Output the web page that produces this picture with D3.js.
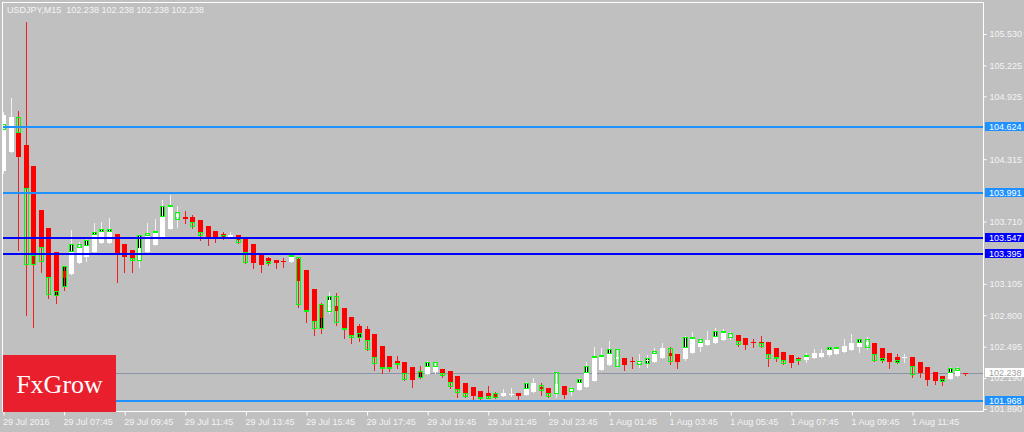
<!DOCTYPE html>
<html><head><meta charset="utf-8">
<script src="https://cdn.jsdelivr.net/npm/d3@7/dist/d3.min.js"></script>
<style>html,body{margin:0;padding:0;background:#c0c0c0;}svg{display:block;}</style>
</head><body><svg id="c" width="1024" height="432"></svg>
<script>
const symbolTitle = "USDJPY,M15  102.238 102.238 102.238 102.238";
const openP = [104.200,104.385,104.569,104.452,104.249,103.822,103.647,103.414,103.230,103.200,
103.307,103.365,103.414,103.501,103.501,103.589,103.492,103.433,103.326,103.414,
103.482,103.560,103.637,103.754,103.754,103.754,103.724,103.666,103.618,103.589,
103.560,103.579,103.560,103.492,103.385,103.356,103.336,103.326,103.317,103.346,
103.239,103.055,102.909,102.832,102.890,102.870,102.783,102.696,102.667,102.618,
102.501,102.404,102.356,102.346,102.298,102.259,102.230,102.249,102.278,102.259,
102.210,102.142,102.103,102.064,102.045,102.035,102.016,102.026,102.045,102.026,
102.055,102.103,102.094,102.035,102.113,102.055,102.074,102.103,102.161,102.268,
102.317,102.375,102.385,102.356,102.336,102.356,102.346,102.385,102.434,102.424,
102.375,102.434,102.492,102.511,102.531,102.560,102.589,102.608,102.579,102.540,
102.540,102.540,102.482,102.443,102.414,102.385,102.366,102.385,102.395,102.414,
102.424,102.443,102.463,102.492,102.511,102.531,102.482,102.434,102.395,102.385,
102.395,102.346,102.298,102.249,102.210,102.181,102.210,102.238];
const highP = [104.773,104.909,104.783,105.646,104.249,103.822,103.647,103.414,103.278,103.627,
103.511,103.560,103.695,103.705,103.744,103.589,103.492,103.433,103.579,103.695,
103.734,103.919,103.967,103.860,103.812,103.773,103.724,103.666,103.618,103.608,
103.608,103.579,103.560,103.492,103.385,103.365,103.336,103.356,103.404,103.365,
103.239,103.055,102.919,103.026,103.016,102.870,102.783,102.715,102.696,102.618,
102.501,102.404,102.404,102.346,102.298,102.307,102.356,102.346,102.278,102.259,
102.210,102.142,102.103,102.064,102.113,102.055,102.084,102.094,102.045,102.152,
102.191,102.142,102.094,102.249,102.113,102.103,102.191,102.346,102.492,102.482,
102.550,102.472,102.385,102.395,102.424,102.414,102.482,102.531,102.492,102.424,
102.599,102.637,102.579,102.647,102.676,102.667,102.637,102.608,102.579,102.570,
102.599,102.540,102.482,102.443,102.414,102.395,102.434,102.472,102.472,102.492,
102.492,102.570,102.618,102.570,102.589,102.531,102.482,102.434,102.424,102.424,
102.395,102.346,102.298,102.249,102.210,102.298,102.298,102.240];
const lowP = [104.181,104.385,103.433,102.802,102.686,103.220,102.967,102.919,103.045,103.200,
103.307,103.326,103.414,103.501,103.501,103.123,103.220,103.220,103.268,103.414,
103.482,103.560,103.637,103.656,103.695,103.647,103.530,103.482,103.511,103.540,
103.550,103.501,103.307,103.259,103.220,103.288,103.259,103.268,103.317,102.880,
102.734,102.608,102.628,102.822,102.705,102.579,102.531,102.550,102.463,102.268,
102.239,102.259,102.288,102.171,102.103,102.191,102.230,102.239,102.200,102.094,
102.006,102.006,101.977,101.977,101.997,101.997,102.016,102.016,101.977,102.026,
102.055,102.026,102.006,102.006,101.997,102.026,102.074,102.103,102.161,102.268,
102.317,102.298,102.268,102.288,102.298,102.298,102.346,102.385,102.327,102.288,
102.366,102.434,102.453,102.511,102.531,102.560,102.570,102.501,102.472,102.492,
102.492,102.307,102.356,102.327,102.298,102.327,102.346,102.385,102.395,102.404,
102.424,102.443,102.463,102.443,102.472,102.356,102.346,102.288,102.336,102.346,
102.200,102.200,102.123,102.132,102.123,102.181,102.210,102.220];
const closeP = [104.744,104.724,104.336,104.035,103.288,103.462,103.171,103.026,103.162,103.414,
103.453,103.472,103.579,103.608,103.608,103.385,103.365,103.356,103.453,103.579,
103.608,103.754,103.860,103.783,103.734,103.705,103.608,103.550,103.550,103.560,
103.579,103.530,103.414,103.307,103.288,103.307,103.307,103.317,103.365,103.132,
102.851,102.744,102.773,102.948,102.841,102.676,102.608,102.628,102.560,102.395,
102.298,102.298,102.336,102.239,102.171,102.239,102.298,102.298,102.239,102.152,
102.084,102.045,102.016,102.006,102.016,102.006,102.045,102.035,102.016,102.084,
102.142,102.084,102.045,102.132,102.026,102.084,102.142,102.239,102.385,102.404,
102.424,102.395,102.317,102.346,102.356,102.366,102.424,102.482,102.404,102.346,
102.482,102.579,102.540,102.560,102.589,102.628,102.608,102.550,102.511,102.531,
102.531,102.424,102.395,102.366,102.336,102.366,102.395,102.434,102.434,102.463,
102.482,102.501,102.531,102.540,102.540,102.424,102.385,102.346,102.356,102.395,
102.307,102.239,102.171,102.161,102.171,102.239,102.259,102.238];
// overlaid (green-outlined) candle bodies
const ghostHigh = [104.656,null,104.724,104.035,103.385,103.462,103.171,103.035,103.278,103.492,
103.492,103.530,103.608,103.637,103.637,null,null,103.356,103.579,103.598,
103.618,103.860,103.870,103.802,null,103.705,103.608,null,null,103.579,
null,103.550,103.414,null,null,103.326,null,null,103.385,103.365,
102.851,102.744,102.909,102.987,102.987,102.676,102.608,102.628,102.560,102.395,
102.298,102.298,102.336,102.239,null,102.259,102.346,102.346,102.239,102.152,
102.084,102.045,null,102.006,102.016,102.045,null,null,null,102.142,
null,102.123,102.045,102.249,null,102.094,102.181,102.307,102.404,102.414,
102.472,102.472,null,null,102.356,102.385,102.453,null,102.482,null,
102.589,102.589,102.570,null,102.647,102.647,102.628,102.550,null,null,
102.531,102.424,102.395,102.366,null,102.375,102.414,null,null,102.492,
102.492,null,null,102.570,102.570,102.424,102.385,null,102.366,null,
102.307,null,null,null,102.181,102.288,102.288,null];
const ghostLow = [104.598,null,104.569,103.288,103.288,103.317,102.996,102.987,103.074,103.414,
103.453,103.472,103.579,103.608,103.608,null,null,103.326,103.326,103.569,
103.598,103.754,103.851,103.724,null,103.656,103.569,null,null,103.540,
null,103.501,103.307,null,null,103.297,null,null,103.365,102.900,
102.832,102.667,102.667,102.832,102.725,102.657,102.579,102.579,102.463,102.327,
102.278,102.278,102.317,102.171,null,102.191,102.298,102.298,102.210,102.103,
102.045,102.006,null,101.987,101.987,101.997,null,null,null,102.084,
null,102.064,102.006,102.035,null,102.055,102.142,102.239,102.385,102.395,
102.424,102.298,null,null,102.317,102.327,102.424,null,102.346,null,
102.482,102.570,102.531,null,102.589,102.628,102.579,102.511,null,null,
102.492,102.375,102.375,102.327,null,102.356,102.395,null,null,102.463,
102.472,null,null,102.531,102.482,102.356,102.356,null,102.336,null,
102.220,null,null,null,102.152,102.239,102.259,null];
const ghostDark = [1,0,0,0,1,0,0,1,1,1, 0,1,1,1,1,0,0,0,1,0, 1,1,1,0,0,0,0,0,0,0,
0,0,0,0,0,0,0,0,1,0, 0,0,1,1,0,0,0,1,0,0, 0,1,0,0,0,1,1,0,0,0, 0,0,0,0,0,0,0,0,0,1,
0,0,0,0,0,0,1,1,1,0, 1,0,0,0,0,1,0,0,0,0, 1,0,0,0,1,0,0,0,0,0, 0,0,0,0,0,0,1,0,0,1,
0,0,0,1,0,0,1,0,1,0, 0,0,0,0,1,1,0,0];

const xTickBars = [0,8,16,24,32,40,48,56,64,72,80,88,96,104,112,120];
const xTickLabels = ["29 Jul 2016","29 Jul 07:45","29 Jul 09:45","29 Jul 11:45","29 Jul 13:45",
"29 Jul 15:45","29 Jul 17:45","29 Jul 19:45","29 Jul 21:45","29 Jul 23:45","1 Aug 01:45",
"1 Aug 03:45","1 Aug 05:45","1 Aug 07:45","1 Aug 09:45","1 Aug 11:45"];
const yTickValues = [105.530,105.225,104.925,104.315,103.710,103.105,102.800,102.495,102.190,101.890];
const levelValues = [104.624,103.991,103.547,103.395,101.968];
const levelKinds = ["light","light","dark","dark","light"];
const bidPrice = 102.238;
const logoText = "FxGrow";

const kindStyle = {light:"#1e90ff", dark:"#0000ff"};
const svg = d3.select("#c");
const font = "'Liberation Sans', Arial, sans-serif";
const P = {l:2.5, t:2.5, r:983.5, b:411.5};
const n = openP.length;
const x = d3.scaleLinear().domain([0, n-1]).range([3.5, 3.5 + 7.575*(n-1)]);
const y = d3.scaleLinear().domain([101.890, 105.530]).range([409, 34]);

svg.append("rect").attr("width",1024).attr("height",432).attr("fill","#c0c0c0");
svg.append("defs").append("clipPath").attr("id","pc").append("rect")
  .attr("x",P.l+0.5).attr("y",P.t+0.5).attr("width",P.r-P.l-1).attr("height",P.b-P.t-1);

// title
svg.append("text").attr("x",7).attr("y",13).attr("fill","#f4f4f4")
  .style("font-family",font).style("font-size","9px").style("white-space","pre")
  .attr("xml:space","preserve").text(symbolTitle);

const plot = svg.append("g").attr("clip-path","url(#pc)").attr("shape-rendering","crispEdges");
const idx = d3.range(n);
const bx = i => Math.round(x(i) - 2.5);
const bull = i => closeP[i] > openP[i];

// bid line
plot.append("line").attr("x1",P.l).attr("x2",P.r)
  .attr("y1",Math.round(y(bidPrice))+0.5).attr("y2",Math.round(y(bidPrice))+0.5)
  .attr("stroke","#8a94a6").attr("stroke-width",1);

const gIdx = idx.filter(i => ghostHigh[i] !== null);
// ghost fills
plot.append("g").selectAll("rect").data(gIdx.filter(i=>ghostDark[i])).join("rect")
  .attr("x", i => bx(i)).attr("width",5)
  .attr("y", i => Math.round(y(ghostHigh[i])))
  .attr("height", i => Math.max(2, Math.round(y(ghostLow[i])) - Math.round(y(ghostHigh[i]))))
  .attr("fill","#000");
// wicks
plot.append("g").selectAll("line").data(idx).join("line")
  .attr("x1", i => bx(i)+2.5).attr("x2", i => bx(i)+2.5)
  .attr("y1", i => Math.round(y(highP[i]))).attr("y2", i => Math.round(y(lowP[i]))+1)
  .attr("stroke", i => bull(i) ? "#f2f2f2" : "#f02020").attr("stroke-width",1);
// bodies
plot.append("g").selectAll("rect").data(idx).join("rect")
  .attr("x", i => bx(i)).attr("width",5)
  .attr("y", i => Math.round(y(Math.max(openP[i],closeP[i]))))
  .attr("height", i => Math.max(1, Math.round(y(Math.min(openP[i],closeP[i]))) - Math.round(y(Math.max(openP[i],closeP[i])))))
  .attr("fill", i => bull(i) ? "#ffffff" : "#ff0000");
// ghost outlines
plot.append("g").selectAll("rect").data(gIdx).join("rect")
  .attr("x", i => bx(i)+0.5).attr("width",4)
  .attr("y", i => Math.round(y(ghostHigh[i]))+0.5)
  .attr("height", i => Math.max(1, Math.round(y(ghostLow[i])) - Math.round(y(ghostHigh[i])) - 1))
  .attr("fill","none").attr("stroke","#00ff00").attr("stroke-width",1);

// level lines
plot.append("g").selectAll("line").data(levelValues).join("line")
  .attr("x1",P.l).attr("x2",P.r)
  .attr("y1", v => Math.round(y(v))).attr("y2", v => Math.round(y(v)))
  .attr("stroke", (v,i) => kindStyle[levelKinds[i]]).attr("stroke-width",2);

// frame
svg.append("rect").attr("x",P.l).attr("y",P.t).attr("width",P.r-P.l).attr("height",P.b-P.t)
  .attr("fill","none").attr("stroke","#ffffff").attr("stroke-width",1);

// right axis
const ay = svg.append("g").attr("transform",`translate(${P.r},0)`)
  .call(d3.axisRight(y).tickValues(yTickValues).tickSize(3).tickPadding(3).tickFormat(d3.format(".3f")));
ay.select(".domain").remove();
ay.selectAll("line").attr("stroke","#ffffff");
ay.selectAll("text").attr("fill","#f4f4f4").style("font-family",font).style("font-size","9px");

// bottom axis
const ax = svg.append("g").attr("transform",`translate(0,${P.b})`)
  .call(d3.axisBottom(x).tickValues(xTickBars).tickSize(4).tickFormat((d,i)=>xTickLabels[i]));
ax.select(".domain").remove();
ax.selectAll("line").attr("stroke","#ffffff");
ax.selectAll("text").attr("fill","#f4f4f4").attr("text-anchor","start").attr("dx","-1")
  .attr("y",7).style("font-family",font).style("font-size","9px");

// level labels
const lab = svg.append("g").selectAll("g").data(levelValues).join("g")
  .attr("transform", v => `translate(985,${Math.round(y(v))})`);
lab.append("rect").attr("x",0).attr("y",-5).attr("width",39).attr("height",9)
  .attr("fill",(v,i)=>kindStyle[levelKinds[i]]);
lab.append("text").attr("x",4).attr("y",3).attr("fill","#ffffff")
  .style("font-family",font).style("font-size","9px").text(v => v.toFixed(3));
// bid label
const bl = svg.append("g").attr("transform",`translate(985,${Math.round(y(bidPrice))})`);
bl.append("rect").attr("x",0).attr("y",-5).attr("width",39).attr("height",9).attr("fill","#ffffff");
bl.append("text").attr("x",4).attr("y",3).attr("fill","#a0a0a0")
  .style("font-family",font).style("font-size","9px").text(bidPrice.toFixed(3));

// logo
svg.append("rect").attr("x",3).attr("y",355).attr("width",113).attr("height",57).attr("fill","#ea1f2d");
svg.append("text").attr("x",59.5).attr("y",393).attr("text-anchor","middle").attr("fill","#ffffff")
  .style("font-family","'Liberation Serif','Times New Roman',serif").style("font-size","26px").text(logoText);
</script></body></html>
